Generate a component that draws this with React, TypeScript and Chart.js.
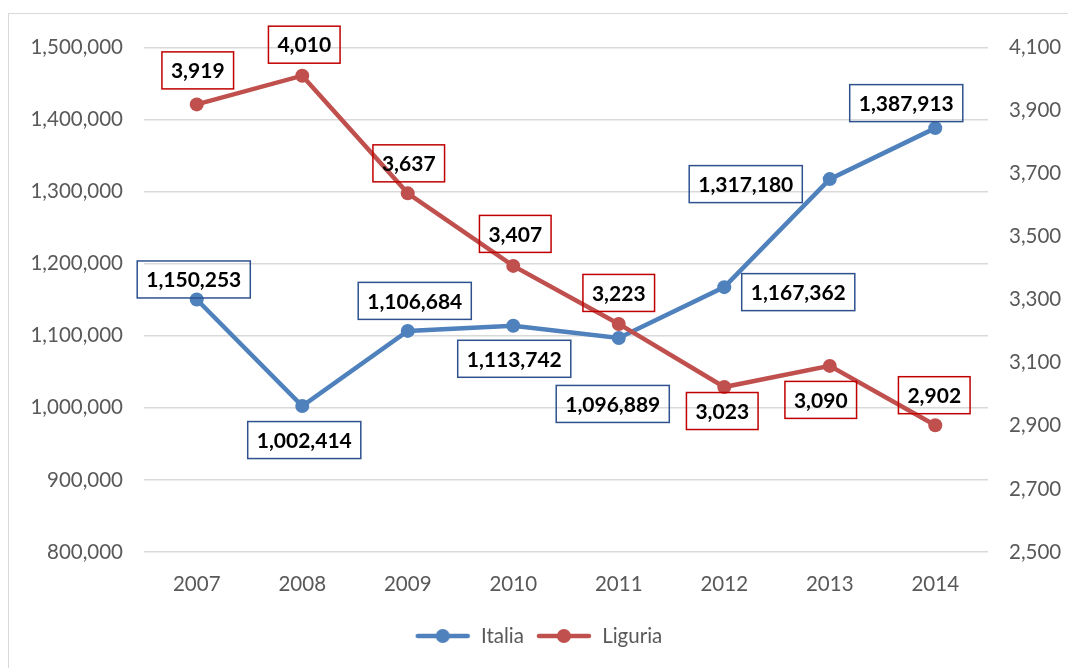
import { useEffect, useRef } from "react";
import { Chart, registerables } from "chart.js";

Chart.register(...registerables);

const years = ["2007", "2008", "2009", "2010", "2011", "2012", "2013", "2014"];
const italia = [1150253, 1002414, 1106684, 1113742, 1096889, 1167362, 1317180, 1387913];
const liguria = [3919, 4010, 3637, 3407, 3223, 3023, 3090, 2902];

// label box offsets relative to each point (dx, dy)
const italiaLabelOffsets = [[-3, -20], [2, 34], [7, -30], [1, 33], [-6, 66], [74, 5], [-84, 5], [-29, -25]];
const liguriaLabelOffsets = [[1, -34], [2, -31], [1, -30], [2, -32], [0, -31], [-2, 24], [-9, 34], [-1, -30]];

const BLUE = "#4F81BD";
const RED = "#C0504D";
const BLUE_BOX = "#2F528F";
const RED_BOX = "#C00000";
const TICK_COLOR = "#595959";
const FONT = "Lato";

const fmt = (v: number) => Number(v).toLocaleString("en-US");

function makeLegendIcon(color: string) {
  const c = document.createElement("canvas");
  c.width = 56;
  c.height = 16;
  const ctx = c.getContext("2d")!;
  ctx.strokeStyle = color;
  ctx.lineWidth = 4.5;
  ctx.lineCap = "round";
  ctx.beginPath();
  ctx.moveTo(3, 8);
  ctx.lineTo(53, 8);
  ctx.stroke();
  ctx.fillStyle = color;
  ctx.beginPath();
  ctx.arc(28, 8, 7, 0, Math.PI * 2);
  ctx.fill();
  return c;
}

const offsetsByDataset = [italiaLabelOffsets, liguriaLabelOffsets];
const boxColors = [BLUE_BOX, RED_BOX];

const boxLabels = {
  id: "boxLabels",
  afterDatasetsDraw(chart: any) {
    const ctx = chart.ctx;
    chart.data.datasets.forEach((ds: any, di: number) => {
      const meta = chart.getDatasetMeta(di);
      const offs = offsetsByDataset[di];
      meta.data.forEach((pt: any, i: number) => {
        const text = fmt(ds.data[i]);
        ctx.save();
        ctx.font = `bold 21px ${FONT}`;
        const w = ctx.measureText(text).width + 18;
        const h = 37;
        const cx = pt.x + offs[i][0];
        const cy = pt.y + offs[i][1];
        ctx.strokeStyle = boxColors[di];
        ctx.lineWidth = 1.5;
        ctx.strokeRect(cx - w / 2, cy - h / 2, w, h);
        ctx.fillStyle = "#000";
        ctx.textAlign = "center";
        ctx.textBaseline = "middle";
        ctx.fillText(text, cx, cy + 1);
        ctx.restore();
      });
    });
  },
};

export default function App() {
  const ref = useRef<HTMLCanvasElement>(null);

  useEffect(() => {
    if (!ref.current) return;
    const icons = [makeLegendIcon(BLUE), makeLegendIcon(RED)];
    const tickFont = { family: FONT, size: 20.5 };
    const chart = new Chart(ref.current, {
      type: "line",
      data: {
        labels: years,
        datasets: [
          {
            label: "Italia",
            data: italia,
            yAxisID: "y",
            borderColor: BLUE,
            backgroundColor: BLUE,
            borderWidth: 4.5,
            pointRadius: 7,
            pointBorderWidth: 0,
            pointBackgroundColor: BLUE,
            tension: 0,
            order: 1,
          },
          {
            label: "Liguria",
            data: liguria,
            yAxisID: "y1",
            borderColor: RED,
            backgroundColor: RED,
            borderWidth: 4.5,
            pointRadius: 7,
            pointBorderWidth: 0,
            pointBackgroundColor: RED,
            tension: 0,
            order: 0,
          },
        ],
      },
      options: {
        responsive: false,
        animation: false,
        layout: { padding: { top: 29, left: 0, right: 0, bottom: 11.75 } },
        plugins: {
          tooltip: { enabled: false },
          legend: {
            position: "bottom",
            labels: {
              usePointStyle: true,
              pointStyleWidth: 56,
              color: TICK_COLOR,
              font: tickFont,
              padding: 12,
              generateLabels: (chart: any) => {
                const items = Chart.defaults.plugins.legend.labels.generateLabels(chart);
                items.sort((a: any, b: any) => a.datasetIndex - b.datasetIndex);
                return items.map((it: any) => ({
                  ...it,
                  pointStyle: icons[it.datasetIndex],
                }));
              },
            },
          },
        },
        scales: {
          x: {
            offset: true,
            grid: { display: false, drawTicks: false },
            border: { display: false },
            ticks: { color: TICK_COLOR, font: tickFont, padding: 20 },
            afterFit: (s: any) => {
              s.height = 61.75;
            },
          },
          y: {
            position: "left",
            min: 800000,
            max: 1500000,
            ticks: {
              stepSize: 100000,
              color: TICK_COLOR,
              font: tickFont,
              padding: 21,
              callback: (v: any) => fmt(v),
            },
            grid: { color: "#D9D9D9", lineWidth: 1.5, drawTicks: false },
            border: { display: false },
            afterFit: (s: any) => {
              s.width = 135;
            },
          },
          y1: {
            position: "right",
            min: 2500,
            max: 4100,
            ticks: {
              stepSize: 200,
              color: TICK_COLOR,
              font: tickFont,
              padding: 21,
              callback: (v: any) => fmt(v),
            },
            grid: { drawOnChartArea: false, drawTicks: false },
            border: { display: false },
            afterFit: (s: any) => {
              s.width = 80;
            },
          },
        },
      },
      plugins: [boxLabels],
    });
    return () => chart.destroy();
  }, []);

  return (
    <div
      style={{
        position: "fixed",
        left: 8,
        top: 13,
        width: 1060,
        height: 655,
        borderTop: "1px solid #D9D9D9",
        borderLeft: "1px solid #D9D9D9",
        background: "#fff",
        boxSizing: "border-box",
      }}
    >
      <canvas ref={ref} width={1059} height={654} style={{ display: "block" }} />
    </div>
  );
}
